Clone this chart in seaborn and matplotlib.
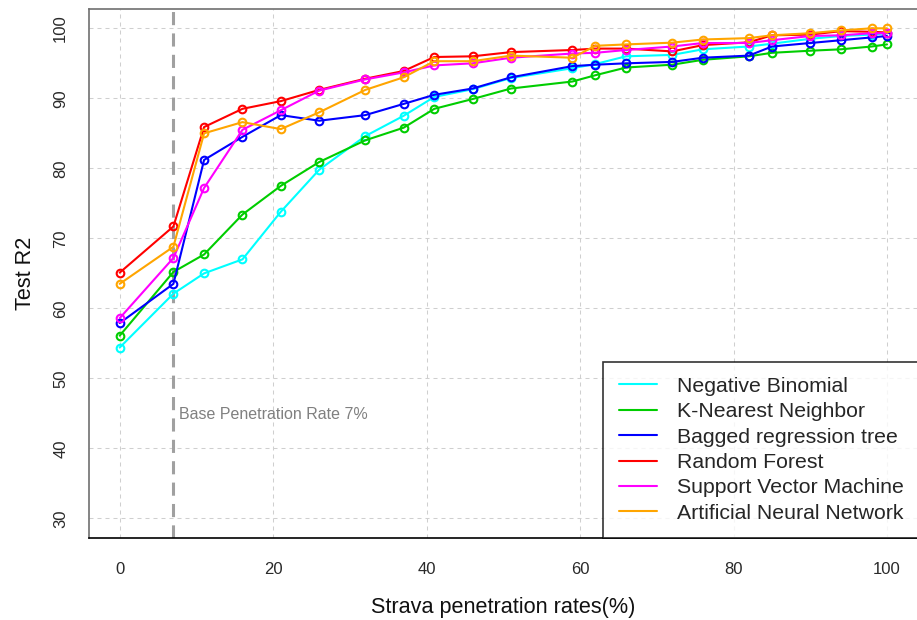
import matplotlib
matplotlib.use("Agg")
import matplotlib.pyplot as plt
from matplotlib.lines import Line2D
import seaborn as sns
import pandas as pd

# ---- data ----
rates = [0, 7, 11, 16, 21, 26, 32, 37, 41, 46, 51, 59, 62, 66, 72, 76, 82, 85, 90, 94, 98, 100]

negative_binomial = [54.4, 62.1, 65.0, 67.0, 73.8, 79.8, 84.6, 87.5, 90.2, 91.3, 92.9,
                     94.3, 94.9, 96.0, 96.2, 97.0, 97.4, 97.8, 98.5, 98.9, 99.1, 99.3]
knn = [56.1, 65.2, 67.7, 73.4, 77.5, 80.9, 84.0, 85.8, 88.5, 89.9, 91.4,
       92.4, 93.3, 94.4, 94.8, 95.5, 96.0, 96.5, 96.8, 97.0, 97.4, 97.7]
bagged = [57.9, 63.5, 81.2, 84.5, 87.6, 86.8, 87.6, 89.2, 90.5, 91.4, 93.0,
          94.6, 94.8, 95.0, 95.2, 95.8, 96.1, 97.4, 97.9, 98.3, 98.7, 98.9]
random_forest = [65.1, 71.7, 85.9, 88.5, 89.6, 91.2, 92.8, 93.9, 95.9, 96.0, 96.6,
                 96.9, 97.1, 97.1, 96.7, 97.6, 98.0, 99.0, 99.1, 99.6, 99.5, 99.4]
svm = [58.6, 67.2, 77.2, 85.5, 88.3, 91.1, 92.7, 93.7, 94.7, 95.0, 95.8,
       96.4, 96.5, 96.9, 97.4, 97.9, 97.9, 98.3, 98.9, 99.0, 99.3, 99.3]
ann = [63.5, 68.8, 85.0, 86.6, 85.6, 88.0, 91.2, 93.0, 95.3, 95.3, 96.1,
       95.8, 97.5, 97.7, 97.95, 98.4, 98.6, 99.0, 99.3, 99.7, 100.0, 100.0]

model_names = ["Negative Binomial", "K-Nearest Neighbor", "Bagged regression tree",
               "Random Forest", "Support Vector Machine", "Artificial Neural Network"]
model_colors = ["#00FFFF", "#00CD00", "#0000FF", "#FF0000", "#FF00FF", "#FFA500"]
series = [negative_binomial, knn, bagged, random_forest, svm, ann]

base_rate = 7
base_label = "Base Penetration Rate 7%"
x_label = "Strava penetration rates(%)"
y_label = "Test R2"
x_ticks = [0, 20, 40, 60, 80, 100]
y_ticks = [30, 40, 50, 60, 70, 80, 90, 100]

# ---- build long table ----
rows = []
for name, vals in zip(model_names, series):
    for r, v in zip(rates, vals):
        rows.append({"rate": r, "r2": v, "model": name})
df = pd.DataFrame(rows)

sns.set_style("white")
plt.rcParams["font.family"] = ["Liberation Sans", "DejaVu Sans"]

fig = plt.figure(figsize=(9.17, 6.2), dpi=100)
ax = fig.add_axes([89 / 917, 82 / 620, 828.7 / 917, 529.3 / 620])

# grid
for xv in x_ticks:
    ax.axvline(xv, color="#CFCFCF", lw=0.75, ls=(0, (3.84, 3.84)), zorder=0)
for yv in y_ticks:
    ax.axhline(yv, color="#CFCFCF", lw=0.75, ls=(0, (3.84, 3.84)), zorder=0)

# base penetration rate line
ax.axvline(base_rate, color="#A0A0A0", lw=2.2, ls=(0, (4.3, 2.7)), zorder=1)
ax.text(7.7, 44.8, base_label, color="#808080", fontsize=11.5, va="center", ha="left")

palette = dict(zip(model_names, model_colors))
sns.lineplot(data=df, x="rate", y="r2", hue="model", hue_order=model_names,
             palette=palette, marker="o", markersize=5.5, markeredgewidth=1.5,
             markerfacecolor="none", lw=1.5, legend=False, ax=ax,
             estimator=None, sort=False, zorder=3)
for line, c in zip(ax.lines[-len(model_names):], model_colors):
    line.set_markeredgecolor(c)
    line.set_markerfacecolor("none")

ax.set_xlim(-4, 104)
ax.set_ylim(27.2, 102.8)
ax.set_xticks(x_ticks)
ax.set_yticks(y_ticks)
ax.tick_params(axis="both", length=7, width=1, color="#555555", labelsize=12,
               labelcolor="#2a2a2a")
ax.tick_params(axis="x", pad=10)
ax.tick_params(axis="y", pad=8)
for lab in ax.get_yticklabels():
    lab.set_rotation(90)
    lab.set_va("center")

ax.set_xlabel(x_label, fontsize=15.6, labelpad=15, color="#111111")
ax.set_ylabel(y_label, fontsize=15.6, labelpad=12, color="#111111")

for side in ["top", "left"]:
    ax.spines[side].set_color("#707070")
    ax.spines[side].set_linewidth(1.2)
ax.spines["bottom"].set_color("#000000")
ax.spines["bottom"].set_linewidth(1.2)
ax.spines["right"].set_visible(False)

handles = [Line2D([0], [0], color=c, lw=1.5) for c in model_colors]
leg = ax.legend(handles, model_names, loc="lower left", bbox_to_anchor=(0.6205, 0.0),
                fontsize=15.3, frameon=True, fancybox=False, edgecolor="black",
                handlelength=1.8, handletextpad=0.95, labelspacing=0.3,
                borderpad=0.72, borderaxespad=0.0)
leg.get_frame().set_linewidth(1.2)
leg.set_zorder(5)

fig.savefig("out.png", dpi=100)
